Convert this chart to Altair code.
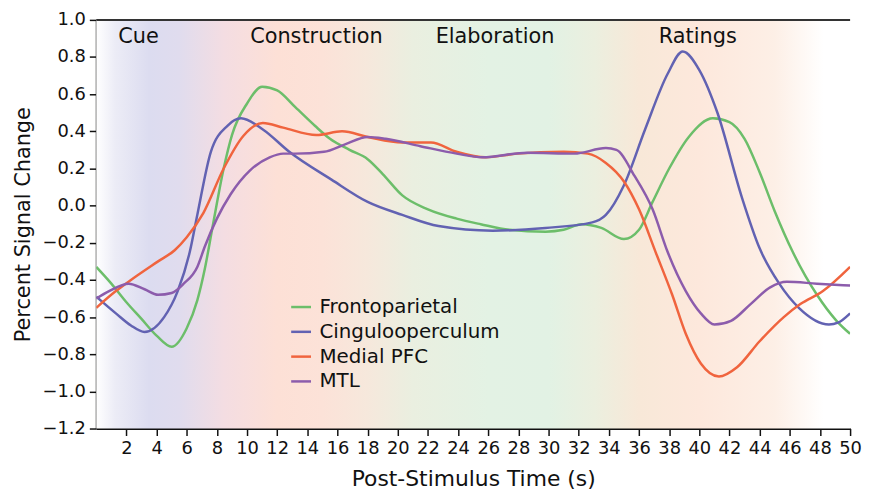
import altair as alt
import pandas as pd

FONT = "DejaVu Sans"

series_names = ["Frontoparietal", "Cingulooperculum", "Medial PFC", "MTL"]
series_colors = ["#6cbe6a", "#6262b2", "#f0643e", "#8c5cac"]

fp_t = [0, 1, 2, 3, 4, 5, 6, 6.7, 7.2, 7.7, 8.45, 9, 10, 11, 12, 13.2, 14.5, 15.5, 16.8, 18, 19, 20.3,
        22, 23.9, 25.5, 27.4, 29.8, 31, 32.2, 33.5, 35, 36, 36.9, 38, 39.3, 40.9, 42, 43, 44, 45, 46.2,
        47.8, 49.1, 50]
fp_v = [-0.33, -0.42, -0.52, -0.61, -0.70, -0.76, -0.66, -0.51, -0.34, -0.12, 0.20, 0.38, 0.55, 0.64,
        0.62, 0.53, 0.43, 0.36, 0.30, 0.25, 0.17, 0.055, -0.02, -0.07, -0.10, -0.13, -0.14, -0.13, -0.10,
        -0.12, -0.18, -0.13, 0.02, 0.20, 0.37, 0.47, 0.45, 0.36, 0.18, -0.03, -0.25, -0.48, -0.62, -0.69]

co_t = [0, 1.3, 2.3, 3.2, 4.5, 5.4, 6.2, 6.7, 7.6, 8.7, 9.6, 11.05, 12.8, 15.6, 18, 20.3, 22.7, 26.3,
        29.8, 32.9, 33.8, 35, 36.4, 37.9, 38.9, 40, 41.2, 42.8, 44, 45.3, 46.6, 48.6, 49.2, 50]
co_v = [-0.49, -0.58, -0.645, -0.68, -0.60, -0.46, -0.25, -0.05, 0.29, 0.43, 0.47, 0.41, 0.29, 0.14,
        0.02, -0.05, -0.11, -0.135, -0.12, -0.09, -0.05, 0.11, 0.41, 0.71, 0.83, 0.73, 0.50, 0.05, -0.23,
        -0.42, -0.55, -0.64, -0.63, -0.58]

pfc_t = [0, 1.3, 2.3, 4.1, 5.2, 6, 7.1, 8.45, 9.75, 11.05, 12.4, 14.6, 16.3, 18, 20.3, 22.2,
         23.9, 25.8, 27.9, 31, 32.6, 33.8, 35, 36, 37.1, 38.2, 39.1, 40.1, 41.3, 42.5, 44, 45.6, 46.7,
         48.2, 50]
pfc_v = [-0.55, -0.46, -0.40, -0.30, -0.24, -0.17, -0.04, 0.20, 0.375, 0.445, 0.42, 0.38, 0.40,
         0.37, 0.34, 0.34, 0.29, 0.26, 0.28, 0.29, 0.28, 0.23, 0.13, -0.02, -0.25, -0.48, -0.69, -0.85,
         -0.92, -0.87, -0.73, -0.60, -0.53, -0.46, -0.33]

mtl_t = [0, 0.85, 2.15, 3.2, 4.1, 5, 5.8, 6.7, 7.2, 8.0, 8.9, 10.2, 11.5, 12.4, 13.2, 15.1, 16.5, 18,
         19.2, 21.5, 23.9, 25.6, 28.6, 31.7, 33.8, 34.5, 35.7, 36.9, 37.9, 39.1, 40.1, 41, 42.1, 43.4,
         44.7, 45.8, 47.8, 50]
mtl_v = [-0.50, -0.46, -0.42, -0.45, -0.48, -0.47, -0.42, -0.33, -0.22, -0.07, 0.06, 0.19, 0.26, 0.28,
         0.28, 0.29, 0.33, 0.37, 0.36, 0.32, 0.28, 0.26, 0.285, 0.28, 0.31, 0.30, 0.16, -0.02, -0.25,
         -0.46, -0.58, -0.64, -0.62, -0.53, -0.44, -0.41, -0.42, -0.43]

phase_names = ["Cue", "Construction", "Elaboration", "Ratings"]
phase_t = [2.8, 14.6, 26.45, 39.9]
phase_v = [0.91, 0.91, 0.91, 0.91]

x_ticks = [2, 4, 6, 8, 10, 12, 14, 16, 18, 20, 22, 24, 26, 28, 30, 32, 34, 36, 38, 40, 42, 44, 46, 48, 50]
y_ticks = [-1.2, -1.0, -0.8, -0.6, -0.4, -0.2, 0.0, 0.2, 0.4, 0.6, 0.8, 1.0]

x_domain = [0, 50]
y_domain = [-1.2, 1.0]

bg_offsets = [0.0, 0.025, 0.07, 0.11, 0.17, 0.24, 0.30, 0.36, 0.42, 0.52, 0.60, 0.66, 0.72, 0.80, 0.90, 0.965, 1.0]
bg_colors = ["#ffffff", "#ececf6", "#dcdcf0", "#e0dcee", "#f4dde2", "#fde0d6", "#fce2d8", "#f6e8dc",
             "#eaefe0", "#e3f2e4", "#e2f2e4", "#ebefdf", "#f8e8d8", "#fde8dc", "#fdefe6", "#ffffff", "#ffffff"]

# ---- build tables ----
rows = []
for name, ts, vs in zip(series_names, [fp_t, co_t, pfc_t, mtl_t], [fp_v, co_v, pfc_v, mtl_v]):
    for t, v in zip(ts, vs):
        rows.append({"series": name, "t": t, "v": v})
lines_df = pd.DataFrame(rows)
phase_df = pd.DataFrame({"phase": phase_names, "t": phase_t, "v": phase_v})
bg_df = pd.DataFrame({"x0": [x_domain[0]], "x1": [x_domain[1]], "y0": [y_domain[0]], "y1": [y_domain[1]]})

xscale = alt.Scale(domain=x_domain, nice=False, zero=False)
yscale = alt.Scale(domain=y_domain, nice=False, zero=False)

x_axis = alt.Axis(title="Post-Stimulus Time (s)", values=x_ticks, format="d",
                  labelPadding=4, titlePadding=11, labelOverlap=False, labelFlush=False,
                  labelBound=False, titleFontSize=22)
y_axis = alt.Axis(title="Percent Signal Change", values=y_ticks, format=".1f",
                  labelPadding=4, titlePadding=9, labelOverlap=False, labelFlush=False,
                  titleFontSize=21)

gradient = {
    "gradient": "linear", "x1": 0, "x2": 1, "y1": 0, "y2": 0,
    "stops": [{"offset": o, "color": c} for o, c in zip(bg_offsets, bg_colors)],
}

bg = alt.Chart(bg_df).mark_rect(color=gradient).encode(
    x=alt.X("x0:Q", scale=xscale, axis=x_axis),
    x2="x1:Q",
    y=alt.Y("y0:Q", scale=yscale, axis=y_axis),
    y2="y1:Q",
)

top_rule = alt.Chart(bg_df).mark_rule(color="#333333", strokeWidth=2).encode(
    x=alt.X("x0:Q", scale=xscale, axis=x_axis),
    x2="x1:Q",
    y=alt.Y("y1:Q", scale=yscale, axis=y_axis),
)

lines = alt.Chart(lines_df).mark_line(interpolate="monotone", strokeWidth=2.5, clip=True).encode(
    x=alt.X("t:Q", scale=xscale, axis=x_axis),
    y=alt.Y("v:Q", scale=yscale, axis=y_axis),
    color=alt.Color("series:N", sort=series_names,
                    scale=alt.Scale(domain=series_names, range=series_colors),
                    legend=alt.Legend(title=None, orient="none", legendX=195, legendY=278,
                                      symbolType="stroke", symbolSize=400, symbolStrokeWidth=2.5,
                                      labelFontSize=20, labelFont=FONT, labelColor="#111111",
                                      labelLimit=0, labelOffset=7, rowPadding=3, padding=0)),
    order="t:Q",
)

phases = alt.Chart(phase_df).mark_text(fontSize=21, font=FONT, color="#111111",
                                       align="center", baseline="middle").encode(
    x=alt.X("t:Q", scale=xscale, axis=x_axis),
    y=alt.Y("v:Q", scale=yscale, axis=y_axis),
    text="phase:N",
)

chart = alt.layer(bg, top_rule, lines, phases).properties(
    width=760, height=412,
    padding={"left": 89, "top": 10, "right": 12, "bottom": 62},
    autosize=alt.AutoSizeParams(type="none"),
).configure_view(stroke=None).configure_axis(
    grid=False,
    domainColor="#111111", domainWidth=2,
    tickColor="#111111", tickSize=7, tickWidth=1.5,
    labelFont=FONT, labelFontSize=18, labelColor="#111111",
    titleFont=FONT, titleFontWeight="normal", titleColor="#111111",
)

chart.save("out.html", embed_options={"renderer": "svg", "actions": False})
